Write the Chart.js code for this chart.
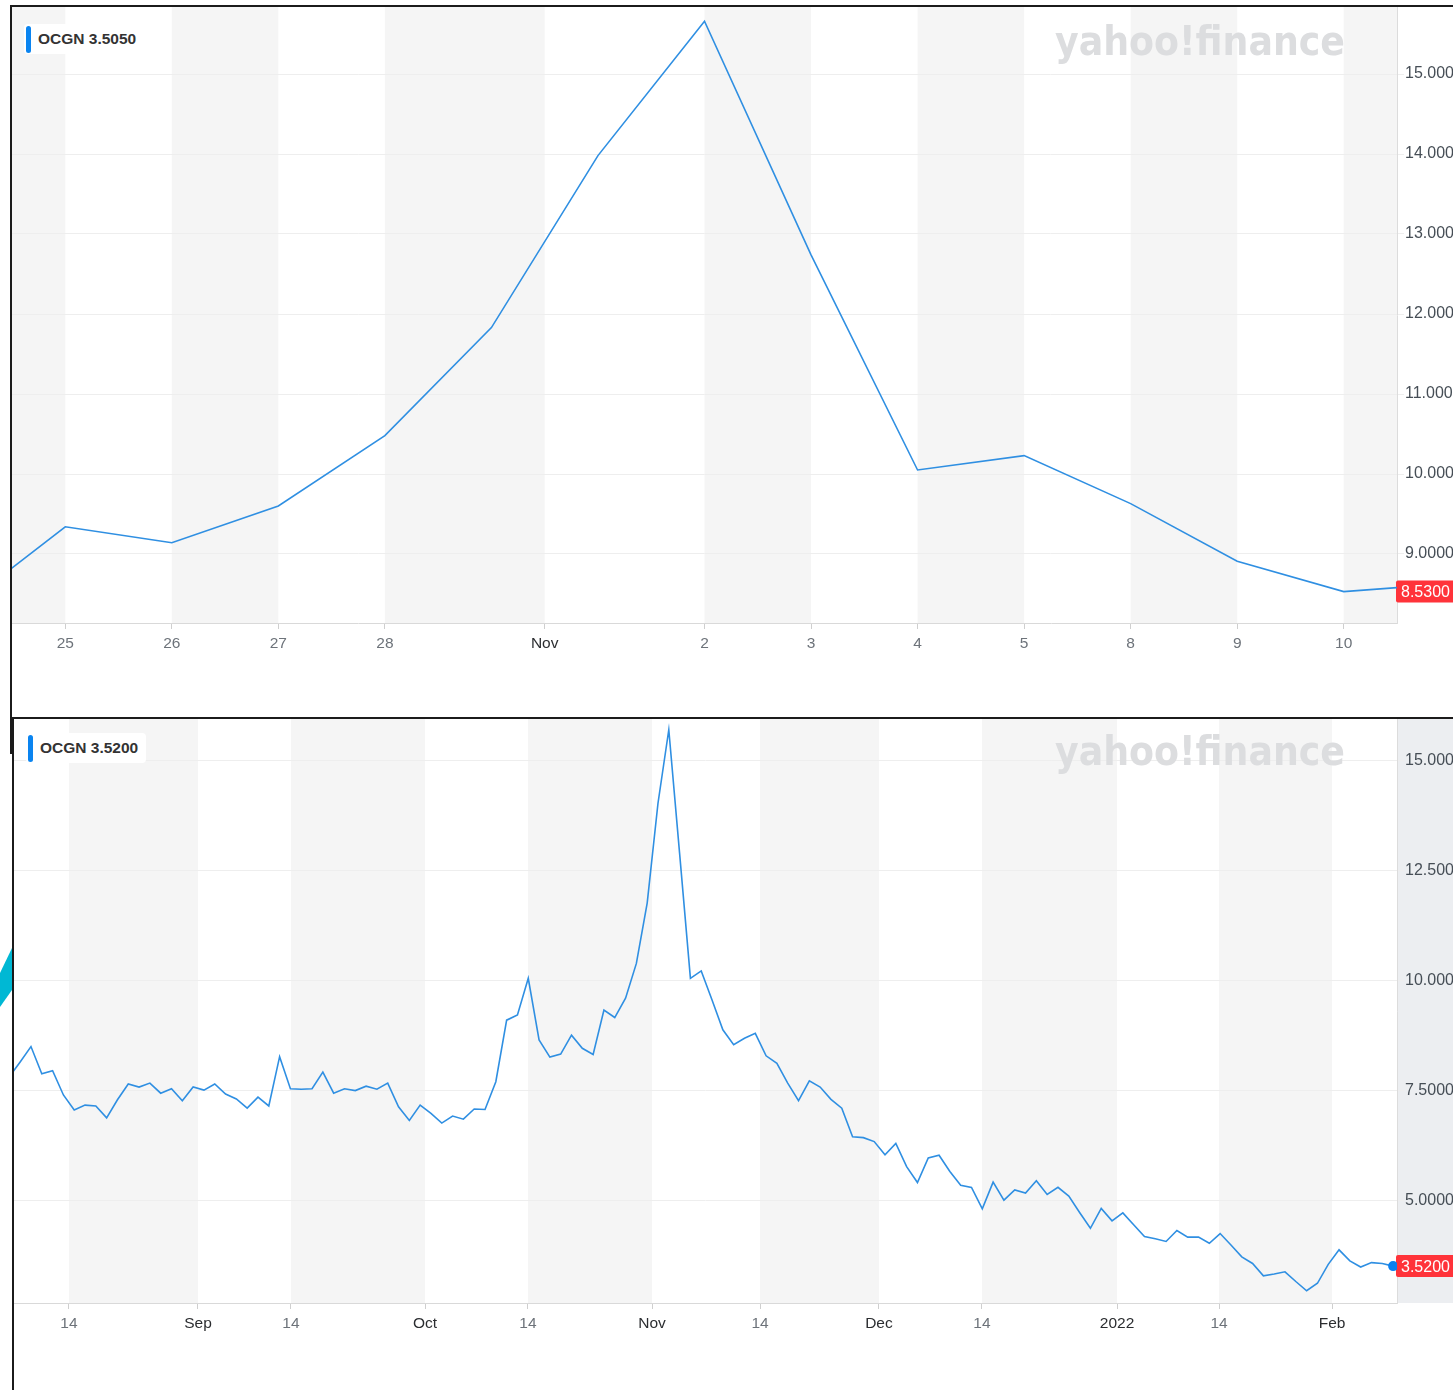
<!DOCTYPE html>
<html>
<head>
<meta charset="utf-8">
<title>OCGN</title>
<script src="https://cdn.jsdelivr.net/npm/chart.js@4"></script>
<style>
  html, body { margin: 0; padding: 0; background: #fff; overflow: hidden; }
  body { width: 1453px; height: 1390px; position: relative; font-family: "Liberation Sans", Helvetica, Arial, sans-serif; }
  .panel { position: absolute; background: #fff; border-top: 2px solid #1b1b1b; border-left: 2px solid #1b1b1b; }
  #topPanel { left: 10px; top: 5px; width: 1500px; height: 747px; z-index: 1; }
  #bottomPanel { left: 12px; top: 717px; width: 1500px; height: 700px; z-index: 2; }
  canvas { display: block; }
  .legend { position: absolute; z-index: 5; height: 30px; line-height: 30px; padding: 0 8px 0 14px;
            background: #fff; border-radius: 4px; font-weight: bold; font-size: 15.5px; color: #333; }
  .legend .bar { position: absolute; left: 2px; top: 2px; width: 5px; height: 27px; background: #0a84f0; border-radius: 3px; }
  .cyan { position: absolute; left: 0; top: 940px; width: 12px; height: 70px; background: #00b8d4; z-index: 0;
          clip-path: polygon(0 33px, 12px 8px, 12px 50px, 0 67px); }
</style>
</head>
<body>
<div class="cyan"></div>
<div id="topPanel" class="panel"><canvas id="topChart" width="1500" height="700"></canvas></div>
<div id="bottomPanel" class="panel"><canvas id="bottomChart" width="1500" height="680"></canvas></div>
<div class="legend" style="left:24px;top:24px"><span class="bar"></span><span id="topLegend"></span></div>
<div class="legend" style="left:26px;top:733px"><span class="bar"></span><span id="bottomLegend"></span></div>
<script>
// top chart: one month of daily closes (x = trading day, 25 Oct = 0)
const topDays = [-1, 0, 1, 2, 3, 4, 5, 6, 7, 8, 9, 10, 11, 12, 12.5];
const topCloses = [8.31, 9.34, 9.14, 9.60, 10.48, 11.83, 13.98, 15.66, 12.74, 10.05, 10.23, 9.63, 8.91, 8.53, 8.58];
const topTickPos = [0, 1, 2, 3, 4.5, 6, 7, 8, 9, 10, 11, 12];
const topTickLabels = ['25', '26', '27', '28', 'Nov', '2', '3', '4', '5', '8', '9', '10'];
const topYTicks = [9, 10, 11, 12, 13, 14, 15];
const topPrice = 8.53;
const topLegend = 'OCGN 3.5050';

// bottom chart: six months of daily closes (x = trading day index)
const bottomCloses = [
  7.82, 8.16, 8.51, 7.89, 7.96, 7.41, 7.07, 7.18, 7.16, 6.89,
  7.30, 7.66, 7.59, 7.68, 7.45, 7.55, 7.28, 7.59, 7.52, 7.66,
  7.43, 7.32, 7.11, 7.36, 7.16, 8.28, 7.55, 7.54, 7.55, 7.93,
  7.45, 7.55, 7.51, 7.61, 7.54, 7.68, 7.14, 6.83, 7.18, 6.99,
  6.77, 6.93, 6.86, 7.09, 7.08, 7.71, 9.11, 9.23, 10.06, 8.66,
  8.27, 8.34, 8.77, 8.47, 8.33, 9.34, 9.17, 9.61, 10.40, 11.77,
  14.04, 15.71, 12.90, 10.06, 10.23, 9.57, 8.89, 8.55, 8.70, 8.81,
  8.30, 8.13, 7.68, 7.28, 7.73, 7.59, 7.31, 7.11, 6.46, 6.44,
  6.35, 6.05, 6.31, 5.78, 5.42, 5.98, 6.04, 5.67, 5.36, 5.31,
  4.82, 5.43, 5.02, 5.25, 5.18, 5.46, 5.15, 5.31, 5.11, 4.74,
  4.38, 4.83, 4.55, 4.73, 4.46, 4.19, 4.14, 4.08, 4.33, 4.18,
  4.18, 4.04, 4.26, 4.00, 3.73, 3.58, 3.30, 3.34, 3.39, 3.17,
  2.96, 3.13, 3.56, 3.89, 3.64, 3.50, 3.60, 3.58, 3.52
];
const bottomTickPos = [5.51, 17.45, 26.05, 38.45, 47.97, 59.45, 69.44, 80.44, 89.97, 102.46, 111.9, 122.35];
const bottomTickLabels = ['14', 'Sep', '14', 'Oct', '14', 'Nov', '14', 'Dec', '14', '2022', '14', 'Feb'];
const bottomYTicks = [5, 7.5, 10, 12.5, 15];
const bottomPrice = 3.52;
const bottomLegend = 'OCGN 3.5200';

Chart.defaults.font.family = '"Liberation Sans", Helvetica, Arial, sans-serif';
Chart.defaults.font.size = 15;

document.getElementById('topLegend').textContent = topLegend;
document.getElementById('bottomLegend').textContent = bottomLegend;

const lineColor = '#2f8fe2';
const stripeColor = '#f5f5f5';
const tagColor = '#ff333a';

// stripes, axis fill, watermark and the red price tag
const decor = (cfg) => ({
  id: 'decor',
  beforeDraw(chart) {
    const { ctx, chartArea: a } = chart;
    const x = chart.scales.x;
    ctx.save();
    if (cfg.axisFill) {
      ctx.fillStyle = cfg.axisFill;
      ctx.fillRect(a.right, 0, chart.width - a.right, a.bottom);
    }
    const edges = [x.min, ...cfg.ticks, x.max];
    ctx.fillStyle = stripeColor;
    for (let k = 0; k < edges.length - 1; k++) {
      if ((k % 2 === 0) !== cfg.firstGray) continue;
      const x0 = x.getPixelForValue(edges[k]);
      const x1 = x.getPixelForValue(edges[k + 1]);
      ctx.fillRect(x0, a.top, x1 - x0, a.bottom - a.top);
    }
    ctx.restore();
  },
  beforeDatasetsDraw(chart) {
    const { ctx, chartArea: a } = chart;
    ctx.save();
    ctx.font = 'bold 41px "DejaVu Sans", sans-serif';
    ctx.fillStyle = '#dcdddf';
    ctx.textAlign = 'right';
    ctx.textBaseline = 'alphabetic';
    ctx.fillText('yahoo!finance', a.right - 52, a.top + cfg.markBase, 290);

    const y = chart.scales.y.getPixelForValue(cfg.price);
    ctx.fillStyle = tagColor;
    ctx.beginPath();
    ctx.roundRect(a.right - 1, y - 11, chart.width, 22, 2);
    ctx.fill();
    ctx.fillStyle = '#fff';
    ctx.font = '16px "Liberation Sans", Arial, sans-serif';
    ctx.textAlign = 'left';
    ctx.textBaseline = 'middle';
    ctx.fillText(cfg.price.toFixed(4), a.right + 4, y + 1);
    ctx.restore();
  }
});

const makeChart = (id, points, opts) => new Chart(document.getElementById(id), {
  type: 'line',
  data: {
    datasets: [{
      data: points,
      borderColor: lineColor,
      borderWidth: 1.6,
      tension: 0,
      fill: false,
      pointRadius: opts.pointRadius,
      pointBackgroundColor: '#0a80f0',
      pointBorderWidth: 0
    }]
  },
  options: {
    responsive: false,
    animation: false,
    events: [],
    devicePixelRatio: 1,
    layout: { padding: 0, autoPadding: false },
    plugins: { legend: { display: false }, tooltip: { enabled: false } },
    scales: {
      x: {
        type: 'linear',
        min: opts.xMin,
        max: opts.xMax,
        afterBuildTicks: s => { s.ticks = opts.ticks.map(v => ({ value: v })); },
        afterFit: s => { s.height = opts.xHeight; s.paddingLeft = 0; s.paddingRight = 0; },
        grid: { drawOnChartArea: false, drawTicks: true, tickLength: 6, color: '#cfcfcf' },
        border: { color: '#d9d9d9' },
        ticks: {
          autoSkip: false,
          maxRotation: 0,
          padding: 5,
          font: { size: 15.5 },
          callback: (v, i) => opts.labels[i],
          color: c => /^\d{1,2}$/.test(opts.labels[c.index]) ? '#6d737a' : '#2b2d30'
        }
      },
      y: {
        position: 'right',
        min: opts.yMin,
        max: opts.yMax,
        afterBuildTicks: s => { s.ticks = opts.yTicks.map(v => ({ value: v })); },
        afterFit: s => { s.width = opts.yWidth; s.paddingTop = 0; s.paddingBottom = 0; },
        grid: { color: '#eeeeee', tickLength: 7, drawTicks: true },
        border: { color: '#dcdcdc' },
        ticks: { padding: 1, color: '#464e56', font: { size: 16 }, callback: v => v.toFixed(4) }
      }
    }
  },
  plugins: [decor(opts)]
});

makeChart('topChart', topDays.map((d, i) => ({ x: d, y: topCloses[i] })), {
  xMin: -0.5, xMax: 12.5, xHeight: 84,
  yMin: 8.1375, yMax: 15.8375, yWidth: 115,
  ticks: topTickPos, labels: topTickLabels, yTicks: topYTicks,
  firstGray: true, axisFill: null, price: topPrice, markBase: 48,
  pointRadius: 0
});

makeChart('bottomChart', bottomCloses.map((v, i) => ({ x: i, y: v })), {
  xMin: 0.43, xMax: 128.36, xHeight: 96,
  yMin: 2.6818, yMax: 15.9545, yWidth: 117,
  ticks: bottomTickPos, labels: bottomTickLabels, yTicks: bottomYTicks,
  firstGray: false, axisFill: '#eceef1', price: bottomPrice, markBase: 46,
  pointRadius: c => c.dataIndex === bottomCloses.length - 1 ? 5 : 0
});
</script>
</body>
</html>
